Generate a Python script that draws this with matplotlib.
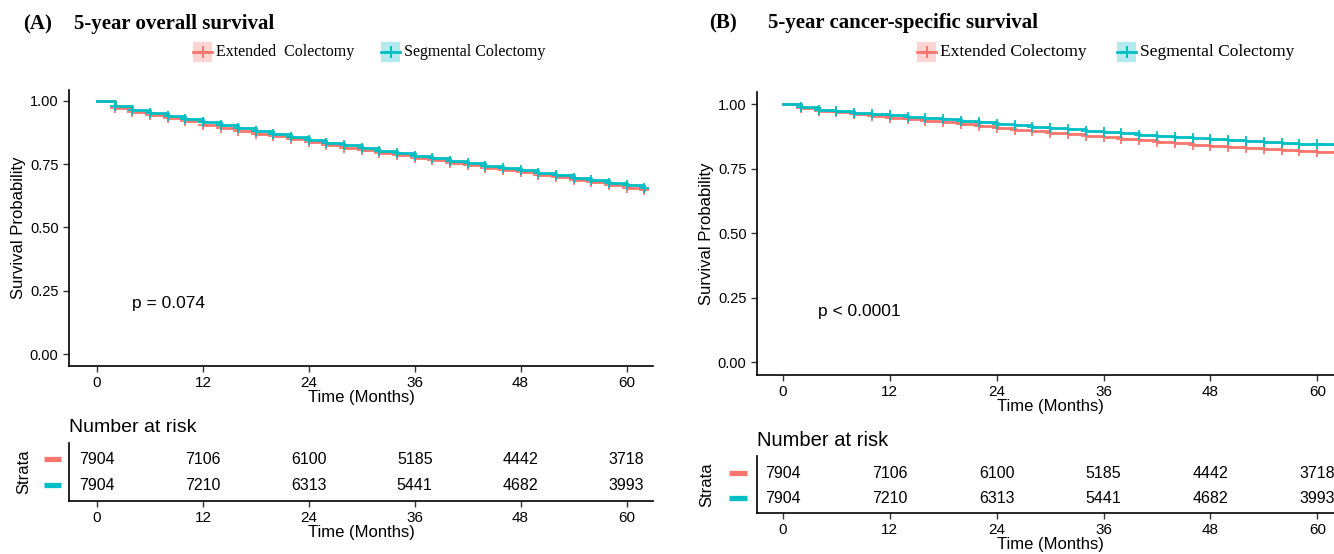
import matplotlib
matplotlib.use("Agg")
import matplotlib.pyplot as plt
from matplotlib.lines import Line2D
from matplotlib.patches import Rectangle

RED = "#F8766D"
TEAL = "#00BFC4"

# survival estimates, every 2 months
months = [0, 2, 4, 6, 8, 10, 12, 14, 16, 18, 20, 22, 24, 26, 28, 30,
          32, 34, 36, 38, 40, 42, 44, 46, 48, 50, 52, 54, 56, 58, 60, 62]

os_extended = [1.0, 0.972, 0.957, 0.945, 0.933, 0.920, 0.906, 0.894, 0.883, 0.871, 0.860, 0.848,
               0.837, 0.826, 0.815, 0.805, 0.795, 0.785, 0.776, 0.766, 0.756, 0.746, 0.736, 0.727,
               0.718, 0.708, 0.698, 0.688, 0.678, 0.668, 0.657, 0.648]
os_segmental = [1.0, 0.978, 0.963, 0.951, 0.940, 0.928, 0.915, 0.903, 0.892, 0.880, 0.869, 0.857,
                0.846, 0.835, 0.824, 0.814, 0.804, 0.794, 0.784, 0.774, 0.764, 0.754, 0.744, 0.735,
                0.726, 0.716, 0.706, 0.696, 0.686, 0.676, 0.666, 0.657]

css_extended = [1.0, 0.984, 0.975, 0.968, 0.961, 0.955, 0.948, 0.942, 0.936, 0.929, 0.922, 0.915,
                0.908, 0.901, 0.895, 0.889, 0.884, 0.878, 0.872, 0.866, 0.860, 0.855, 0.849, 0.843,
                0.838, 0.833, 0.829, 0.825, 0.821, 0.818, 0.816, 0.814]
css_segmental = [1.0, 0.987, 0.979, 0.973, 0.967, 0.962, 0.957, 0.952, 0.947, 0.941, 0.935, 0.930,
                 0.924, 0.918, 0.913, 0.907, 0.902, 0.897, 0.892, 0.887, 0.882, 0.877, 0.872, 0.868,
                 0.864, 0.860, 0.856, 0.852, 0.849, 0.846, 0.844, 0.842]

risk_times = [0, 12, 24, 36, 48, 60]
risk_extended = [7904, 7106, 6100, 5185, 4442, 3718]
risk_segmental = [7904, 7210, 6313, 5441, 4682, 3993]

SANS = "Liberation Sans"
SERIF = "Liberation Serif"
W, H = 1334, 554

fig = plt.figure(figsize=(13.34, 5.54), dpi=100)


def fx(px):
    return px / W


def fy(py):
    return 1 - py / H


def style_axis(ax):
    for side in ["top", "right"]:
        ax.spines[side].set_visible(False)
    for side in ["left", "bottom"]:
        ax.spines[side].set_linewidth(1.2)
        ax.spines[side].set_color("black")
    ax.tick_params(direction="out", length=4, width=1, color="#333333")
    ax.set_xticks(risk_times)


def km_panel(rect, xlim, ylim, ext, seg, ptext, pxy):
    ax = fig.add_axes(rect)
    for vals, col in [(ext, RED), (seg, TEAL)]:
        ax.plot(months, vals, drawstyle="steps-post", color=col, lw=2, clip_on=False)
        ax.plot(months[1:], vals[1:], ls="none", marker="+", ms=7, mew=1.3, color=col, clip_on=False)
    ax.set_xlim(*xlim)
    ax.set_ylim(*ylim)
    ax.set_yticks([0, 0.25, 0.5, 0.75, 1.0])
    ax.set_yticklabels(["0.00", "0.25", "0.50", "0.75", "1.00"], fontsize=10.5, family=SANS)
    ax.set_xticklabels([str(t) for t in risk_times], fontsize=11, family=SANS)
    ax.set_xlabel("Time (Months)", fontsize=12, family=SANS, labelpad=0)
    ax.set_ylabel("Survival Probability", fontsize=12, family=SANS, labelpad=3)
    ax.text(pxy[0], pxy[1], ptext, fontsize=12.5, family=SANS, va="center")
    style_axis(ax)
    return ax


def risk_panel(rect, xlim, rows_y):
    ax = fig.add_axes(rect)
    for vals, yy in [(risk_extended, rows_y[0]), (risk_segmental, rows_y[1])]:
        for t, n in zip(risk_times, vals):
            ax.text(t, yy, str(n), ha="center", va="center", fontsize=11.5, family=SANS)
    ax.set_xlim(*xlim)
    ax.set_ylim(0, 1)
    ax.set_yticks([])
    ax.set_xticklabels([str(t) for t in risk_times], fontsize=11, family=SANS)
    ax.set_xlabel("Time (Months)", fontsize=12, family=SANS, labelpad=0)
    style_axis(ax)
    return ax


def legend_entry(x0, y, label, col, size):
    fig.patches.append(Rectangle((fx(x0), fy(y + 10)), 19 / W, 20 / H, transform=fig.transFigure,
                                 facecolor=col, alpha=0.3, edgecolor="none"))
    fig.lines.append(Line2D([fx(x0), fx(x0 + 19)], [fy(y), fy(y)], transform=fig.transFigure,
                            color=col, lw=2))
    fig.lines.append(Line2D([fx(x0 + 9.5)], [fy(y)], transform=fig.transFigure, color=col,
                            marker="+", ms=9, mew=1.4))
    fig.text(fx(x0 + 23), fy(y), label, fontsize=size, family=SERIF, va="center")


def strata_marks(x0, x1, ys, lab_x, lab_y):
    for yy, col in zip(ys, [RED, TEAL]):
        fig.lines.append(Line2D([fx(x0), fx(x1)], [fy(yy), fy(yy)], transform=fig.transFigure,
                                color=col, lw=3.8, solid_capstyle="butt"))
    fig.text(fx(lab_x), fy(lab_y), "Strata", rotation=90, fontsize=12, family=SANS,
             ha="center", va="center")


# Panel A
km_panel([fx(69), fy(366), 584 / W, 276 / H], (-3.17, 63.0), (-0.047, 1.043),
         os_extended, os_segmental, "p = 0.074", (4.0, 0.198))
risk_panel([fx(69), fy(501), 584 / W, 58 / H], (-3.17, 63.0), (0.72, 0.27))
fig.text(fx(23), fy(24), "(A)", fontsize=15, family=SERIF, weight="bold", va="center")
fig.text(fx(74), fy(24), "5-year overall survival", fontsize=15, family=SERIF, weight="bold", va="center")
legend_entry(193, 52, "Extended  Colectomy", RED, 11.5)
legend_entry(381, 52, "Segmental Colectomy", TEAL, 11.5)
fig.text(fx(69), fy(427), "Number at risk", fontsize=14, family=SANS, va="center")
strata_marks(44, 61, [459, 485], 24, 472)

# Panel B
km_panel([fx(757), fy(375), 587 / W, 283 / H], (-2.92, 63.0), (-0.05, 1.047),
         css_extended, css_segmental, "p < 0.0001", (3.9, 0.198))
risk_panel([fx(757), fy(513), 587 / W, 57 / H], (-2.92, 63.0), (0.70, 0.26))
fig.text(fx(709), fy(23), "(B)", fontsize=15, family=SERIF, weight="bold", va="center")
fig.text(fx(768), fy(23), "5-year cancer-specific survival", fontsize=15, family=SERIF,
         weight="bold", va="center")
legend_entry(917, 52, "Extended Colectomy", RED, 12.5)
legend_entry(1117, 52, "Segmental Colectomy", TEAL, 12.5)
fig.text(fx(757), fy(440), "Number at risk", fontsize=14.5, family=SANS, va="center")
strata_marks(729, 747, [473, 498], 707, 485)

fig.savefig("out.png", dpi=100)
